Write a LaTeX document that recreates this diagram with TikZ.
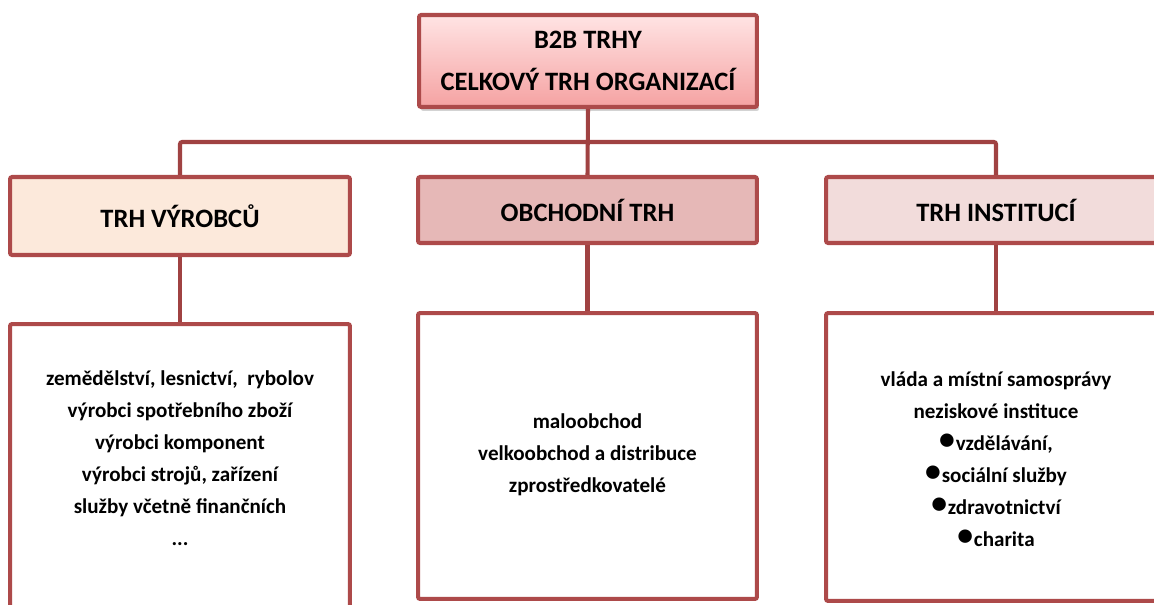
\documentclass[tikz,border=0pt]{standalone}
\usepackage{fontspec}
\setmainfont{Carlito}
\usetikzlibrary{positioning,shadows}
\definecolor{mkLine}{HTML}{AD4A4A}
\definecolor{mkLink}{HTML}{A04242}
\definecolor{mkTopA}{HTML}{FFE4E4}
\definecolor{mkTopB}{HTML}{F5A2A2}
\definecolor{mkPeach}{HTML}{FCE9DB}
\definecolor{mkRose}{HTML}{E6B8B7}
\definecolor{mkBlush}{HTML}{F2DCDB}
\tikzset{
  box/.style      ={draw=mkLine,line width=2.3pt,rounded corners=1.2pt,
                    inner sep=2pt,align=center},
  headfont/.style ={font=\bfseries\fontsize{15.1}{24.2}\selectfont},
  rootbox/.style  ={box,headfont,top color=mkTopA,bottom color=mkTopB,
                    minimum width=6.76cm,minimum height=1.84cm,
                    drop shadow={opacity=0.35,shadow xshift=0.04cm,shadow yshift=-0.08cm}},
  groupbox/.style ={box,headfont,minimum width=6.8cm,minimum height=1.32cm},
  listbox/.style  ={box,fill=white,minimum width=6.8cm},
  listtxt/.style  ={align=center,font=\bfseries\fontsize{12}{18.2}\selectfont},
  link/.style     ={draw=mkLink,line width=2.3pt,rounded corners=1.2pt},
}
\newcommand{\pt}{\raisebox{.1ex}{\fontsize{18}{18}\selectfont\textbullet}\kern.5pt}

\begin{document}
\begin{tikzpicture}[x=0.02cm,y=-0.02cm]
\useasboundingbox (0,0) rectangle (1154,605);
\clip (0,0) rectangle (1154,605);

% root
\node[rootbox] (top) at (588,61) {B2B TRHY\\CELKOVÝ TRH ORGANIZACÍ};

% the three markets
\node[groupbox,fill=mkPeach,minimum height=1.56cm] (prod) at (180,216) {TRH VÝROBCŮ};
\node[groupbox,fill=mkRose,minimum width=6.78cm] (trade) at (587.5,210) {OBCHODNÍ TRH};
\node[groupbox,fill=mkBlush] (inst) at (996,210) {TRH INSTITUCÍ};

% list boxes
\node[listbox,minimum height=6.6cm] (prodlist) at (180,489) {};
\node[listbox,minimum width=6.78cm,minimum height=5.72cm] (tradelist) at (587.5,456) {};
\node[listbox,minimum height=5.76cm] (instlist) at (996,457) {};

\node[listtxt] (prodtext) at (180,458)
  {zemědělství, lesnictví,~ rybolov\\výrobci spotřebního zboží\\výrobci komponent\\
   výrobci strojů, zařízení\\služby včetně finančních\\...};
\node[listtxt] (tradetext) at (587.5,455)
  {maloobchod\\velkoobchod a distribuce\\zprostředkovatelé};
\node[listtxt] (insttext) at (996,459)
  {vláda a místní samosprávy\\neziskové instituce\\\pt vzdělávání,\\
   \pt sociální služby\\\pt zdravotnictví\\\pt charita};

% connectors
\coordinate (bus) at (588,142);
\draw[link] (top.south) -- (trade.north);
\draw[link] (prod.north) |- (bus) -| (inst.north);
\draw[link] (prod.south) -- (prodlist.north);
\draw[link] (trade.south) -- (tradelist.north);
\draw[link] (inst.south) -- (instlist.north);
\end{tikzpicture}
\end{document}
